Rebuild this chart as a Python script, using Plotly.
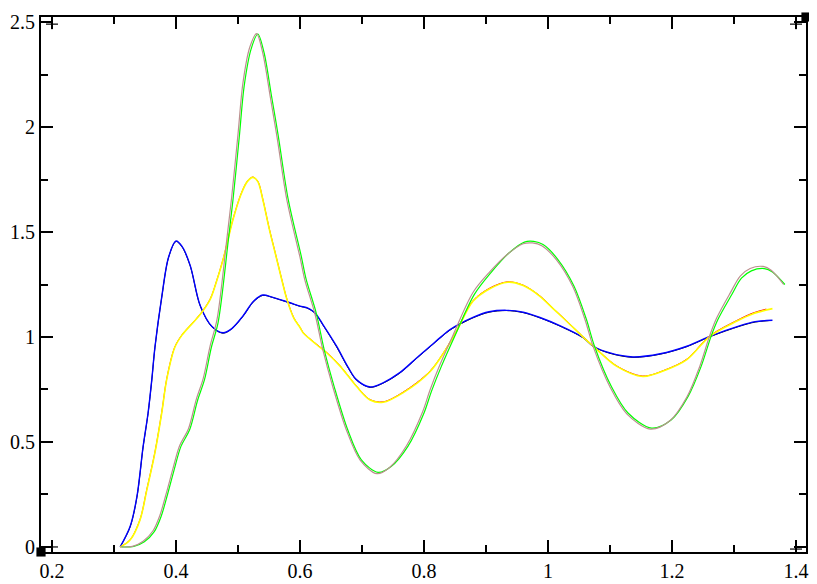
import plotly.graph_objects as go

# ---- data ----
blue_x = [0.31, 0.326, 0.337, 0.347, 0.355, 0.361, 0.366, 0.377, 0.388, 0.40, 0.41, 0.423, 0.439,
          0.458, 0.476, 0.49, 0.508, 0.525, 0.54, 0.555, 0.568, 0.584, 0.60, 0.611, 0.624, 0.637,
          0.659, 0.678, 0.691, 0.713, 0.734, 0.761, 0.788, 0.81, 0.826, 0.842, 0.879, 0.905, 0.933,
          0.96, 0.987, 1.019, 1.057, 1.073, 1.10, 1.137, 1.181, 1.224, 1.261, 1.31, 1.334, 1.362]
blue_y = [0.0, 0.097, 0.24, 0.479, 0.638, 0.797, 0.95, 1.19, 1.38, 1.457, 1.43, 1.34, 1.15,
          1.05, 1.02, 1.04, 1.10, 1.17, 1.20, 1.19, 1.178, 1.163, 1.147, 1.14, 1.116, 1.059,
          0.956, 0.854, 0.797, 0.762, 0.782, 0.83, 0.90, 0.956, 0.997, 1.035, 1.093, 1.12, 1.127,
          1.118, 1.093, 1.054, 0.997, 0.956, 0.924, 0.905, 0.92, 0.956, 1.003, 1.054, 1.073, 1.08]

black_x = [0.31, 0.326, 0.337, 0.347, 0.355, 0.361, 0.366, 0.377, 0.388, 0.40, 0.41, 0.423, 0.439,
           0.458, 0.476, 0.49, 0.508, 0.525, 0.54, 0.555, 0.568, 0.584, 0.60, 0.611, 0.624, 0.637,
           0.659, 0.678, 0.691, 0.713, 0.734, 0.761, 0.788, 0.81, 0.826, 0.842, 0.879, 0.905, 0.933,
           0.96, 0.987, 1.019, 1.057, 1.073, 1.10, 1.137, 1.181, 1.224, 1.261, 1.31, 1.334, 1.356]
black_y = [0.0, 0.095, 0.237, 0.476, 0.636, 0.795, 0.948, 1.188, 1.378, 1.455, 1.428, 1.338, 1.149,
           1.048, 1.018, 1.039, 1.098, 1.168, 1.198, 1.189, 1.177, 1.162, 1.146, 1.138, 1.114, 1.057,
           0.953, 0.851, 0.795, 0.760, 0.780, 0.828, 0.898, 0.954, 0.995, 1.033, 1.091, 1.118, 1.126,
           1.116, 1.091, 1.052, 0.995, 0.954, 0.922, 0.903, 0.918, 0.954, 1.001, 1.052, 1.071, 1.078]

yellow_x = [0.31, 0.326, 0.342, 0.353, 0.366, 0.377, 0.385, 0.398, 0.41, 0.425, 0.439, 0.455,
            0.466, 0.476, 0.492, 0.505, 0.515, 0.524, 0.532, 0.54, 0.55, 0.56, 0.57, 0.579, 0.59,
            0.60, 0.605, 0.627, 0.643, 0.665, 0.691, 0.713, 0.734, 0.766, 0.81, 0.847, 0.879, 0.906,
            0.935, 0.96, 0.987, 1.01, 1.03, 1.06, 1.073, 1.111, 1.153, 1.191, 1.224, 1.261, 1.304,
            1.33, 1.362]
yellow_y = [0.0, 0.033, 0.129, 0.272, 0.448, 0.638, 0.797, 0.95, 1.01, 1.06, 1.107, 1.178,
            1.27, 1.369, 1.56, 1.68, 1.74, 1.76, 1.74, 1.655, 1.52, 1.40, 1.28, 1.178, 1.09,
            1.045, 1.02, 0.963, 0.925, 0.86, 0.765, 0.70, 0.689, 0.734, 0.836, 0.997, 1.17, 1.23,
            1.261, 1.245, 1.194, 1.13, 1.075, 0.99, 0.956, 0.86, 0.812, 0.844, 0.892, 1.003, 1.075,
            1.11, 1.135]

red_x = [0.31, 0.326, 0.342, 0.353, 0.366, 0.377, 0.385, 0.398, 0.41, 0.425, 0.439, 0.455,
         0.466, 0.476, 0.492, 0.505, 0.515, 0.524, 0.532, 0.54, 0.55, 0.56, 0.57, 0.579, 0.59,
         0.60, 0.605, 0.627, 0.643, 0.665, 0.691, 0.713, 0.734, 0.766, 0.81, 0.847, 0.879, 0.906,
         0.935, 0.96, 0.987, 1.01, 1.03, 1.06, 1.073, 1.111, 1.153, 1.191, 1.224, 1.261, 1.304,
         1.33, 1.352]
red_y = [0.0, 0.034, 0.131, 0.275, 0.451, 0.641, 0.80, 0.952, 1.012, 1.062, 1.109, 1.18,
         1.272, 1.371, 1.562, 1.682, 1.742, 1.762, 1.742, 1.657, 1.522, 1.402, 1.282, 1.18, 1.092,
         1.047, 1.022, 0.965, 0.927, 0.862, 0.767, 0.702, 0.691, 0.737, 0.839, 1.0, 1.173, 1.233,
         1.263, 1.247, 1.196, 1.132, 1.077, 0.992, 0.958, 0.862, 0.814, 0.846, 0.895, 1.006, 1.078,
         1.114, 1.133]

green_x = [0.312, 0.332, 0.349, 0.365, 0.376, 0.387, 0.397, 0.408, 0.422, 0.435, 0.446, 0.457,
           0.468, 0.484, 0.492, 0.502, 0.510, 0.521, 0.532, 0.542, 0.554, 0.565, 0.581, 0.602, 0.610,
           0.626, 0.639, 0.655, 0.677, 0.699, 0.726, 0.747, 0.774, 0.800, 0.812, 0.828, 0.849,
           0.881, 0.908, 0.937, 0.962, 0.977, 0.992, 1.016, 1.042, 1.062, 1.075, 1.102, 1.129, 1.167,
           1.199, 1.226, 1.247, 1.263, 1.274, 1.296, 1.312, 1.328, 1.349, 1.362, 1.382]
green_y = [0.0, 0.003, 0.025, 0.073, 0.145, 0.257, 0.367, 0.479, 0.558, 0.70, 0.797, 0.95,
           1.07, 1.45, 1.655, 1.95, 2.196, 2.37, 2.443, 2.355, 2.149, 1.957, 1.655, 1.385, 1.274,
           1.116, 0.94, 0.765, 0.558, 0.415, 0.355, 0.383, 0.479, 0.638, 0.741, 0.86, 1.0,
           1.202, 1.307, 1.40, 1.452, 1.455, 1.44, 1.369, 1.242, 1.083, 0.956, 0.765, 0.638, 0.566,
           0.606, 0.717, 0.86, 1.003, 1.083, 1.20, 1.28, 1.315, 1.326, 1.31, 1.25]

brown_x = [0.31, 0.33, 0.347, 0.363, 0.374, 0.385, 0.395, 0.406, 0.42, 0.433, 0.444, 0.455,
           0.466, 0.482, 0.49, 0.50, 0.508, 0.519, 0.53, 0.54, 0.552, 0.563, 0.579, 0.60, 0.608,
           0.624, 0.637, 0.653, 0.675, 0.697, 0.724, 0.745, 0.772, 0.798, 0.81, 0.826, 0.847,
           0.879, 0.906, 0.935, 0.96, 0.975, 0.99, 1.014, 1.04, 1.06, 1.073, 1.10, 1.127, 1.165,
           1.197, 1.224, 1.245, 1.261, 1.272, 1.294, 1.31, 1.326, 1.347, 1.36, 1.38]
brown_y = [0.0, 0.003, 0.027, 0.077, 0.15, 0.262, 0.372, 0.483, 0.562, 0.705, 0.803, 0.957,
           1.08, 1.465, 1.67, 1.965, 2.21, 2.38, 2.445, 2.352, 2.145, 1.952, 1.65, 1.38, 1.27,
           1.112, 0.937, 0.762, 0.556, 0.414, 0.349, 0.38, 0.483, 0.645, 0.75, 0.87, 1.01,
           1.212, 1.31, 1.395, 1.444, 1.448, 1.435, 1.366, 1.24, 1.08, 0.953, 0.762, 0.634, 0.561,
           0.602, 0.714, 0.862, 1.008, 1.09, 1.21, 1.29, 1.326, 1.336, 1.318, 1.25]

x_ticks = [0.2, 0.4, 0.6, 0.8, 1.0, 1.2, 1.4]
x_tick_text = ["0.2", "0.4", "0.6", "0.8", "1", "1.2", "1.4"]
y_ticks = [0, 0.5, 1.0, 1.5, 2.0, 2.5]
y_tick_text = ["0", "0.5", "1", "1.5", "2", "2.5"]

# (x, y, colour, width) in drawing order
series = [
    (black_x, black_y, "black", 1.0),
    (blue_x, blue_y, "#0000ff", 1.4),
    (red_x, red_y, "#ff0000", 1.0),
    (yellow_x, yellow_y, "#ffff00", 1.6),
    (green_x, green_y, "#00ff00", 1.2),
    (brown_x, brown_y, "#bc8f8f", 1.2),
]

fig = go.Figure()
for xs, ys, col, w in series:
    fig.add_trace(go.Scatter(x=xs, y=ys, mode="lines",
                             line=dict(color=col, width=w, shape="spline", smoothing=0.9),
                             showlegend=False, hoverinfo="skip"))

serif = "Liberation Serif, Times New Roman, serif"
axis_common = dict(
    showgrid=False, zeroline=False, showline=True, linecolor="black", linewidth=2,
    mirror="allticks", ticks="inside", ticklen=12, tickwidth=2, tickcolor="black",
    tickfont=dict(family=serif, size=20, color="black"), automargin=False,
)

fig.update_xaxes(range=[0.1823, 1.4161], tickvals=x_ticks, ticktext=x_tick_text,
                 minor=dict(dtick=0.1, tick0=0.2, ticks="inside", ticklen=7, tickwidth=2, tickcolor="black"),
                 **axis_common)
fig.update_yaxes(range=[-0.024, 2.524], tickvals=y_ticks, ticktext=y_tick_text,
                 minor=dict(dtick=0.25, tick0=0, ticks="inside", ticklen=7, tickwidth=2, tickcolor="black"),
                 **axis_common)

# corner decorations (black squares at plot corners, plus marks near them)
shapes = []
for cx, cy in [(0, 0), (1, 1)]:
    shapes.append(dict(type="rect", xref="paper", yref="paper",
                       x0=cx - 0.006, x1=cx + 0.006, y0=cy - 0.0085, y1=cy + 0.0085,
                       fillcolor="black", line=dict(width=0), layer="above"))
for px_, py_ in [(0.2, 0.0), (0.2, 2.49), (1.4, 2.49), (1.4, -0.01)]:
    shapes.append(dict(type="line", xref="x", yref="y", x0=px_ - 0.0097, x1=px_ + 0.0097, y0=py_, y1=py_,
                       line=dict(color="black", width=1.2)))
    shapes.append(dict(type="line", xref="x", yref="y", x0=px_, x1=px_, y0=py_ - 0.024, y1=py_ + 0.024,
                       line=dict(color="black", width=1.2)))

# the page body adds an 8px offset, so the figure is sized to the remaining area
fig.update_layout(
    width=809, height=576,
    margin=dict(l=33, r=11, t=9, b=32),
    paper_bgcolor="white", plot_bgcolor="white",
    font=dict(family=serif),
    shapes=shapes,
)

fig.write_html("out.html")
